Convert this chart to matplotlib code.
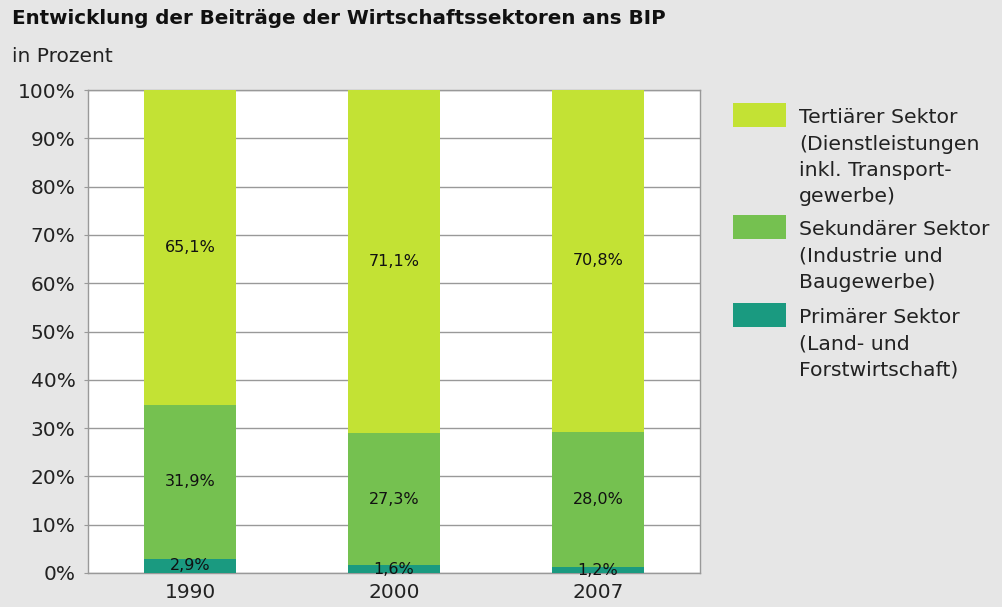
import matplotlib
matplotlib.use("Agg")
import matplotlib.pyplot as plt
from matplotlib.patches import Rectangle

plt.rcParams['font.family'] = ['DejaVu Sans']

years = ["1990", "2000", "2007"]
primaer = [2.9, 1.6, 1.2]
sekundaer = [31.9, 27.3, 28.0]
tertiaer = [65.1, 71.1, 70.8]
yticks = [0, 10, 20, 30, 40, 50, 60, 70, 80, 90, 100]
legend_labels = [
    "Tertiärer Sektor\n(Dienstleistungen\ninkl. Transport-\ngewerbe)",
    "Sekundärer Sektor\n(Industrie und\nBaugewerbe)",
    "Primärer Sektor\n(Land- und\nForstwirtschaft)",
]

c_ter = "#c3e234"
c_sek = "#75c150"
c_pri = "#1a9a80"
bg = "#e6e6e6"
W, H = 1002, 607

fig = plt.figure(figsize=(W/100, H/100), dpi=100, facecolor=bg)
ax = fig.add_axes([88/W, 1-573/H, 612/W, 483/H])
ax.set_facecolor("white")

x = list(range(len(years)))
w = 0.45
b2 = [p + s for p, s in zip(primaer, sekundaer)]
ax.bar(x, primaer, w, color=c_pri, zorder=3)
ax.bar(x, sekundaer, w, bottom=primaer, color=c_sek, zorder=3)
ax.bar(x, tertiaer, w, bottom=b2, color=c_ter, zorder=3)

def fmt(v):
    return f"{v:.1f}".replace(".", ",") + "%"

lab_kw = dict(ha="center", va="center", fontsize=11.5, color="#111111", zorder=4)
for i in x:
    ax.text(i, primaer[i]/2, fmt(primaer[i]), **lab_kw)
    ax.text(i, primaer[i] + sekundaer[i]/2, fmt(sekundaer[i]), **lab_kw)
    ax.text(i, b2[i] + tertiaer[i]/2, fmt(tertiaer[i]), **lab_kw)

ax.set_xlim(-0.50, 2.50)
ax.set_ylim(0, 100)
ax.set_yticks(yticks)
ax.set_yticklabels([f"{t}%" for t in yticks], fontsize=14.5, color="#222222")
ax.set_xticks(x)
ax.set_xticklabels(years, fontsize=14.5, color="#222222")
ax.tick_params(axis="y", length=3, color="#999999", pad=6)
ax.tick_params(axis="x", length=0, pad=7)
ax.grid(axis="y", color="#999999", linewidth=1, zorder=1)
for s in ax.spines.values():
    s.set_color("#999999")
    s.set_linewidth(1)

fig.text(12/W, 1-19/H, "Entwicklung der Beiträge der Wirtschaftssektoren ans BIP",
         fontsize=14.3, fontweight="bold", color="#111111", va="center", ha="left")
fig.text(12/W, 1-56/H, "in Prozent", fontsize=14.5, color="#222222", va="center", ha="left")

patches_top = [103, 215, 303]
colors = [c_ter, c_sek, c_pri]
line_h = 26.5
for py, col, lab in zip(patches_top, colors, legend_labels):
    fig.patches.append(Rectangle((733/W, 1-(py+24)/H), 53/W, 24/H,
                                 transform=fig.transFigure, facecolor=col, edgecolor="none"))
    for k, line in enumerate(lab.split("\n")):
        fig.text(799/W, 1-(py+20+k*line_h)/H, line, fontsize=14.7, color="#222222",
                 ha="left", va="baseline")

fig.savefig("out.png", dpi=100, facecolor=bg)
